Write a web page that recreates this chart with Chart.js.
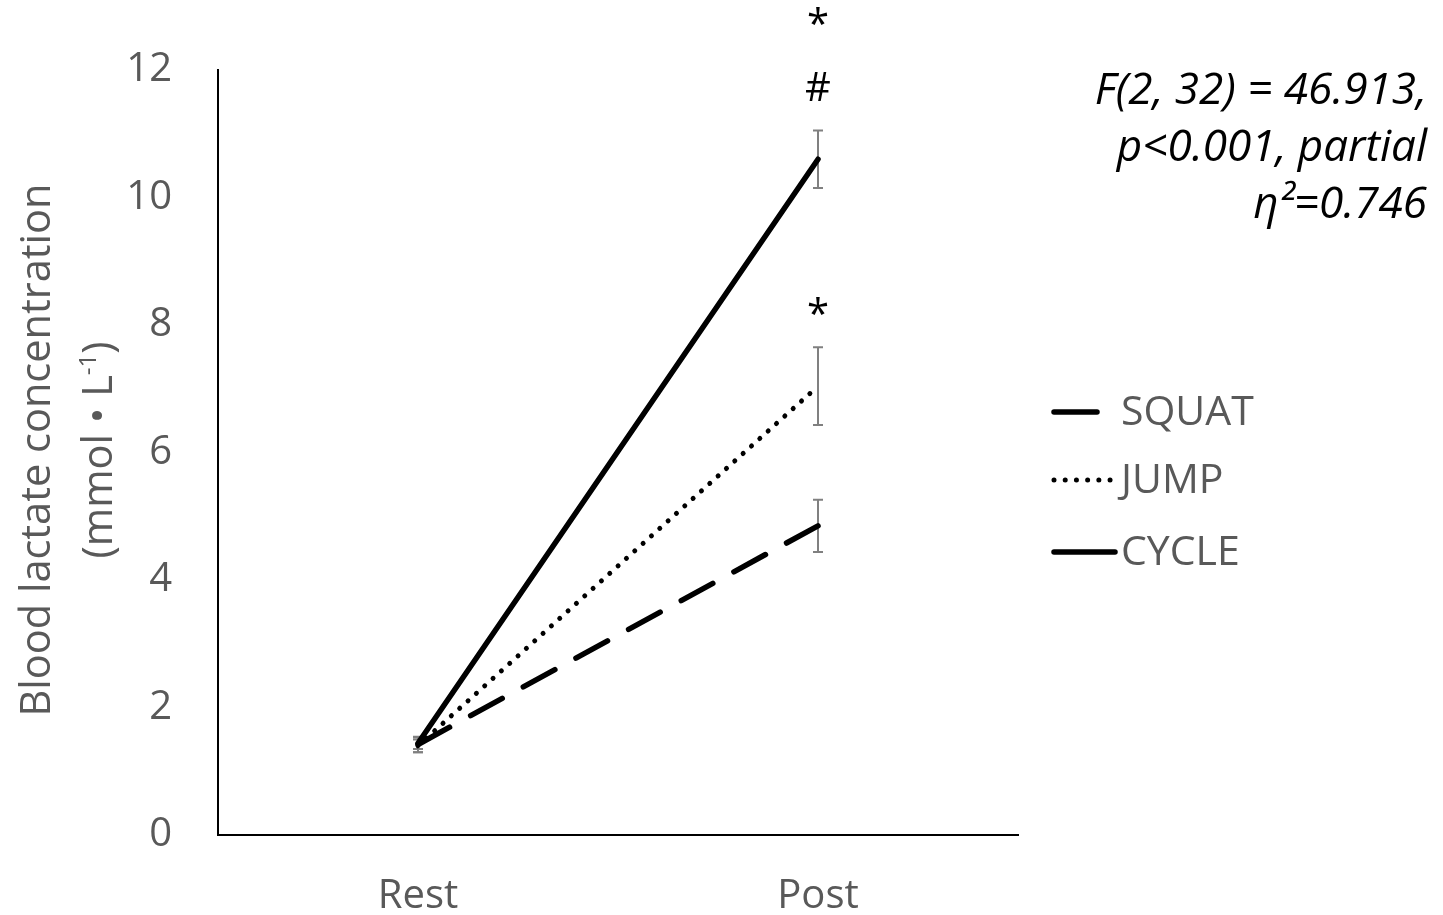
<!DOCTYPE html>
<html>
<head>
<meta charset="utf-8">
<script src="https://cdn.jsdelivr.net/npm/chart.js@4.4.1/dist/chart.umd.min.js"></script>
<style>
html,body{margin:0;padding:0;background:#fff;}
#wrap{width:1443px;height:915px;position:relative;}
</style>
</head>
<body>
<div id="wrap"><canvas id="c" width="1443" height="915"></canvas></div>
<script>
// ---- data ----
const categories = ['Rest', 'Post'];
const squatMean = [1.42, 4.85];
const squatErr  = [0.12, 0.41];
const jumpMean  = [1.40, 7.04];
const jumpErr   = [0.10, 0.61];
const cycleMean = [1.44, 10.60];
const cycleErr  = [0.09, 0.45];
const yTicks = [0, 2, 4, 6, 8, 10, 12];
const seriesNames = ['SQUAT', 'JUMP', 'CYCLE'];
// significance markers: [category index, y value, text]
const markers = [
  [1, 12.68, '*'],
  [1, 11.70, '#'],
  [1, 8.13, '*']
];
const statLines = ['F(2, 32) = 46.913,', 'p<0.001, partial', 'η²=0.746'];
const yTitle1 = 'Blood lactate concentration';

const FONT = "'Open Sans', sans-serif";
const GRAY = '#595959';

const errs = [squatErr, jumpErr, cycleErr];

const errorBarPlugin = {
  id: 'errbars',
  beforeDatasetsDraw(chart) {
    const ctx = chart.ctx, ys = chart.scales.y;
    ctx.save();
    ctx.strokeStyle = '#808080';
    ctx.lineWidth = 2;
    chart.data.datasets.forEach((ds, i) => {
      const meta = chart.getDatasetMeta(i);
      meta.data.forEach((pt, j) => {
        const v = ds.data[j], e = errs[i][j];
        const x = pt.x;
        const yt = ys.getPixelForValue(v + e), yb = ys.getPixelForValue(v - e);
        ctx.beginPath();
        ctx.moveTo(x, yt); ctx.lineTo(x, yb);
        ctx.moveTo(x - 5, yt); ctx.lineTo(x + 5, yt);
        ctx.moveTo(x - 5, yb); ctx.lineTo(x + 5, yb);
        ctx.stroke();
      });
    });
    ctx.restore();
  }
};

const decorPlugin = {
  id: 'decor',
  afterDraw(chart) {
    const ctx = chart.ctx, xs = chart.scales.x, ys = chart.scales.y;
    ctx.save();
    // markers
    ctx.fillStyle = '#000';
    ctx.font = '40px ' + FONT;
    ctx.textAlign = 'center';
    ctx.textBaseline = 'middle';
    markers.forEach(m => {
      ctx.fillText(m[2], xs.getPixelForValue(m[0]), ys.getPixelForValue(m[1]));
    });
    // stats text
    ctx.font = 'italic 44px ' + FONT;
    ctx.textAlign = 'right';
    ctx.textBaseline = 'alphabetic';
    statLines.forEach((t, k) => ctx.fillText(t, 1427, 104 + 57 * k));
    // y axis title
    ctx.fillStyle = GRAY;
    ctx.font = '41.5px ' + FONT;
    ctx.translate(50, 450);
    ctx.rotate(-Math.PI / 2);
    ctx.textAlign = 'center';
    ctx.fillText(yTitle1, 0, 0);
    ctx.rotate(Math.PI / 2);
    ctx.translate(62, 0);
    ctx.rotate(-Math.PI / 2);
    const a = '(mmol • L', s = '-1', b = ')';
    ctx.font = '41.5px ' + FONT;
    const wa = ctx.measureText(a).width, wb = ctx.measureText(b).width;
    ctx.font = '24px ' + FONT;
    const ws = ctx.measureText(s).width;
    let x0 = -(wa + ws + wb) / 2;
    ctx.textAlign = 'left';
    ctx.font = '41.5px ' + FONT;
    ctx.fillText(a, x0, 0);
    ctx.font = '24px ' + FONT;
    ctx.fillText(s, x0 + wa, -16);
    ctx.font = '41.5px ' + FONT;
    ctx.fillText(b, x0 + wa + ws, 0);
    ctx.restore();

    // legend
    ctx.save();
    const rows = [412, 480, 552];
    const ends = [1097, 1112, 1115];
    chart.data.datasets.forEach((ds, i) => {
      ctx.strokeStyle = '#000';
      ctx.lineWidth = ds.borderWidth;
      ctx.lineCap = ds.borderCapStyle || 'butt';
      ctx.setLineDash(i === 0 ? [] : (ds.borderDash || []));
      ctx.beginPath();
      ctx.moveTo(1054, rows[i]);
      ctx.lineTo(ends[i], rows[i]);
      ctx.stroke();
      ctx.setLineDash([]);
      ctx.fillStyle = GRAY;
      ctx.font = '41px ' + FONT;
      ctx.textAlign = 'left';
      ctx.textBaseline = 'middle';
      ctx.fillText(ds.label, 1121, rows[i] + 1);
    });
    ctx.restore();
  }
};

new Chart(document.getElementById('c'), {
  type: 'line',
  data: {
    labels: categories,
    datasets: [
      { label: seriesNames[0], data: squatMean, borderColor: '#000', borderWidth: 5.5, borderDash: [36, 24], borderCapStyle: 'round', pointRadius: 0, tension: 0, fill: false },
      { label: seriesNames[1], data: jumpMean, borderColor: '#000', borderWidth: 5, borderDash: [0.01, 11.2], borderCapStyle: 'round', pointRadius: 0, tension: 0, fill: false },
      { label: seriesNames[2], data: cycleMean, borderColor: '#000', borderWidth: 5.5, borderCapStyle: 'round', pointRadius: 0, tension: 0, fill: false }
    ]
  },
  options: {
    responsive: false,
    animation: false,
    layout: { padding: { top: 68, right: 425, left: 0, bottom: 0 } },
    plugins: { legend: { display: false }, tooltip: { enabled: false } },
    scales: {
      x: {
        offset: true,
        grid: { display: false, drawTicks: false },
        border: { display: true, color: '#000', width: 2 },
        ticks: { color: GRAY, font: { family: FONT, size: 40 }, padding: 38 },
        afterFit: s => { s.height = 80; }
      },
      y: {
        min: 0, max: 12,
        grid: { display: false, drawTicks: false },
        border: { display: true, color: '#000', width: 2 },
        afterBuildTicks: s => { s.ticks = yTicks.map(v => ({ value: v })); },
        ticks: { color: GRAY, font: { family: FONT, size: 40 }, padding: 46 },
        afterFit: s => { s.width = 218; }
      }
    }
  },
  plugins: [errorBarPlugin, decorPlugin]
});
</script>
</body>
</html>
